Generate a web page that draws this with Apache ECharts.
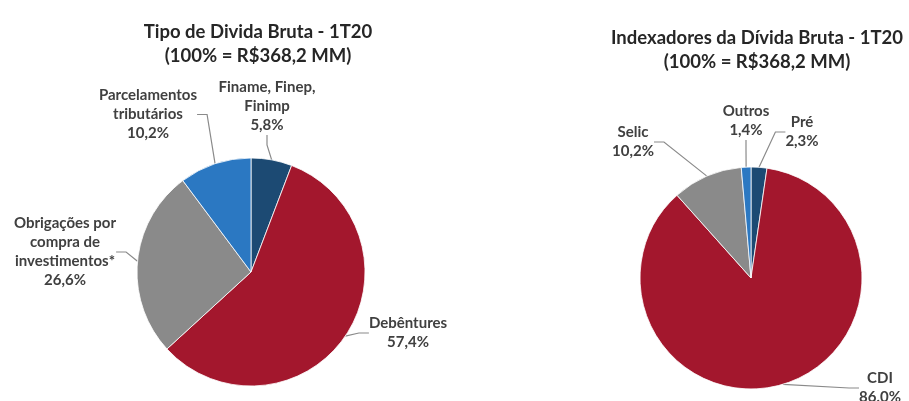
<!DOCTYPE html>
<html>
<head>
<meta charset="utf-8">
<script src="https://cdn.jsdelivr.net/npm/echarts@6/dist/echarts.min.js"></script>
<style>
  html, body { margin: 0; padding: 0; background: #fff; }
</style>
</head>
<body>
<div id="chart-container" style="width: 909px; height: 401px"></div>
<script>
// left pie: tipo de divida (clockwise from 12 o'clock)
const tipoLabels = ["Finame, Finep,\nFinimp", "Debêntures", "Obrigações por\ncompra de\ninvestimentos*", "Parcelamentos\ntributários"];
const tipoValues = [5.8, 57.4, 26.6, 10.2];

// right pie: indexadores
const indexLabels = ["Pré", "CDI", "Selic", "Outros"];
const indexValues = [2.3, 86.0, 10.2, 1.4];

const colors = ["#1c4a73", "#a3172d", "#8a8a8a", "#2b78c2"];

// where the label text sits (chart pixels, top-center of the text block)
const tipoLabelPos = [[267, 78], [408, 314], [65, 214], [148, 86]];
const indexLabelPos = [[802, 113], [880, 369], [633, 123], [746, 102]];

const fontFamily = "Lato, 'Open Sans', sans-serif";

function fmt(v) {
  return v.toFixed(1).replace(".", ",") + "%";
}

function buildData(labels, values) {
  return labels.map((name, i) => ({
    name: name,
    value: values[i],
    itemStyle: { color: colors[i] },
  }));
}

function makeLayout(positions) {
  return function (params) {
    const p = positions[params.dataIndex];
    return {
      x: p[0],
      y: p[1],
      align: "center",
      verticalAlign: "top",
      moveOverlap: false,
      hideOverlap: false,
    };
  };
}

const labelStyle = {
  show: true,
  position: "outside",
  formatter: (p) => p.name + "\n" + fmt(p.value),
  color: "#404040",
  fontFamily: fontFamily,
  fontWeight: "bold",
  fontSize: 15,
  lineHeight: 19,
  align: "center",
};

const labelLine = {
  show: true,
  length: 10,
  length2: 10,
  lineStyle: { color: "#8a8a8a", width: 1.2 },
};

const titleStyle = {
  fontFamily: fontFamily,
  fontWeight: "bold",
  fontSize: 18.5,
  lineHeight: 24,
  color: "#262626",
};

const option = {
  animation: false,
  title: [
    {
      text: "Tipo de Divida Bruta - 1T20\n(100% = R$368,2 MM)",
      left: 253,
      top: 15,
      textAlign: "center",
      textStyle: titleStyle,
    },
    {
      text: "Indexadores da Dívida Bruta - 1T20\n(100% = R$368,2 MM)",
      left: 752,
      top: 21,
      textAlign: "center",
      textStyle: titleStyle,
    },
  ],
  series: [
    {
      name: "Tipo",
      type: "pie",
      center: [251, 272],
      radius: [0, 114],
      startAngle: 90,
      clockwise: true,
      avoidLabelOverlap: false,
      itemStyle: { borderColor: "#ffffff", borderWidth: 0.8 },
      label: labelStyle,
      labelLine: labelLine,
      labelLayout: makeLayout(tipoLabelPos),
      data: buildData(tipoLabels, tipoValues),
    },
    {
      name: "Indexadores",
      type: "pie",
      center: [751, 278],
      radius: [0, 111],
      startAngle: 90,
      clockwise: true,
      avoidLabelOverlap: false,
      itemStyle: { borderColor: "#ffffff", borderWidth: 0.8 },
      label: labelStyle,
      labelLine: labelLine,
      labelLayout: makeLayout(indexLabelPos),
      data: buildData(indexLabels, indexValues),
    },
  ],
};

let myChart = echarts.init(document.getElementById("chart-container"));
myChart.setOption(option);
</script>
</body>
</html>
